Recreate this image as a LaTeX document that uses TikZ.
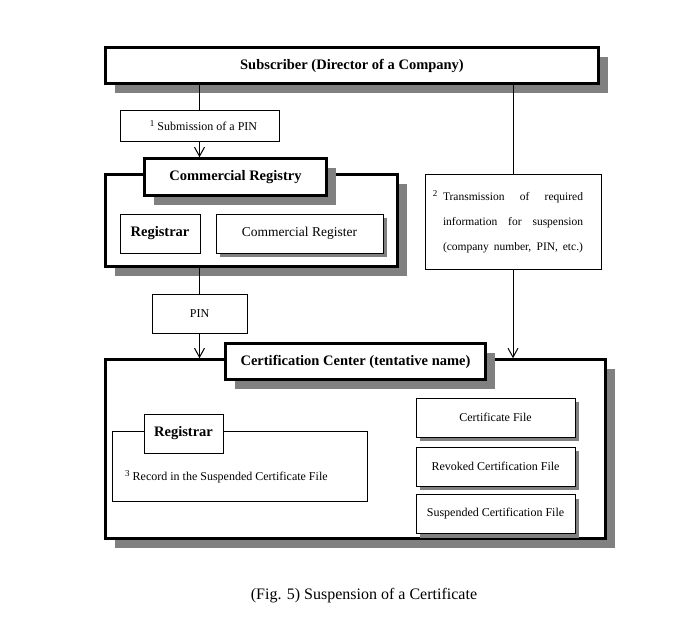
\documentclass[tikz,border=0pt]{standalone}
\usepackage{fontspec}
\setmainfont{Liberation Serif}
\usetikzlibrary{arrows.meta,shadows}
\definecolor{shadegray}{HTML}{808080}
\tikzset{
  heavybox/.style={draw, line width=2.6pt, fill=white, inner sep=0pt,
    drop shadow={shadow xshift=9pt, shadow yshift=-9pt, opacity=1, fill=shadegray}},
  lightbox/.style={draw, line width=1pt, fill=white, inner sep=0pt},
  filebox/.style={lightbox, minimum width=159pt, minimum height=39pt, font=\fontsize{12}{14}\selectfont,
    drop shadow={shadow xshift=4pt, shadow yshift=-4pt, opacity=1, fill=shadegray}},
  titletext/.style={font=\fontsize{14.5}{17}\selectfont\bfseries},
  arr/.style={line width=1pt, -{Straight Barb[length=9pt,width=10pt,line width=1pt]}},
  link/.style={line width=1pt}
}
\newcommand{\stepno}[1]{\raisebox{4pt}{\fontsize{9}{10}\selectfont #1}}
\begin{document}
\begin{tikzpicture}[x=1pt,y=-1pt]
\useasboundingbox[fill=white] (0,0) rectangle (686,643);
% subscriber
\node[heavybox,titletext,minimum width=493pt,minimum height=36pt] (subscriber) at (352,65.5) {Subscriber (Director of a Company)};
\node[lightbox,minimum width=159pt,minimum height=31pt,font=\fontsize{12}{14}\selectfont] (submission) at (199.5,125.5) {\hspace*{8pt}\stepno{1} Submission of a PIN};
% commercial registry
\node[heavybox,minimum width=292pt,minimum height=92pt] (crouter) at (251.5,220.5) {};
\node[heavybox,titletext,minimum width=182pt,minimum height=37pt] (crtitle) at (235.5,177) {Commercial Registry};
\node[lightbox,titletext,minimum width=80pt,minimum height=39pt] (crregistrar) at (160,233.5) {Registrar};
\node[lightbox,minimum width=167pt,minimum height=39pt,font=\fontsize{13.5}{16}\selectfont,
  drop shadow={shadow xshift=4pt, shadow yshift=-4pt, opacity=1, fill=shadegray}] (crregister) at (299.5,233.5) {Commercial Register};
\node[lightbox,minimum width=95pt,minimum height=39pt,font=\fontsize{12}{14}\selectfont] (pin) at (199.5,313.5) {PIN};
% transmission
\node[lightbox,minimum width=176pt,minimum height=95pt,align=left,font=\fontsize{11.5}{25}\selectfont] (transmission) at (513,221.5)
  {\llap{\stepno{2}\ \ }\makebox[140pt][s]{Transmission of required}\\
   \makebox[140pt][s]{information for suspension}\\
   \makebox[140pt][s]{(company number, PIN, etc.)}};
% certification center
\node[heavybox,minimum width=500pt,minimum height=179pt] (ccouter) at (355.5,449) {};
\node[heavybox,titletext,minimum width=260pt,minimum height=36pt] (cctitle) at (355.5,361.5) {Certification Center (tentative name)};
\node[lightbox,minimum width=255pt,minimum height=70pt] (ccgroup) at (239.5,466) {};
\node[lightbox,titletext,minimum width=79pt,minimum height=39pt] (ccregistrar) at (183.5,433.5) {Registrar};
\node[anchor=west,inner sep=0pt,font=\fontsize{12}{14}\selectfont] (record) at (125,477) {\stepno{3} Record in the Suspended Certificate File};
\node[filebox] (certfile) at (495.5,417.5) {Certificate File};
\node[filebox] (revoked) at (495.5,466.5) {Revoked Certification File};
\node[filebox] (suspended) at (495.5,514) {Suspended Certification File};
% connectors
\draw[link] (submission.north |- subscriber.south) -- (submission.north);
\draw[arr] (submission.south) -- (submission.south |- crtitle.north);
\draw[link] (pin.north |- crouter.south) -- (pin.north);
\draw[arr] (pin.south) -- (pin.south |- ccouter.north);
\draw[link] (transmission.north |- subscriber.south) -- (transmission.north);
\draw[arr] (transmission.south) -- (transmission.south |- ccouter.north);
\node[font=\fontsize{16}{19}\selectfont] (caption) at (364,596) {(Fig. 5) Suspension of a Certificate};
\end{tikzpicture}
\end{document}
